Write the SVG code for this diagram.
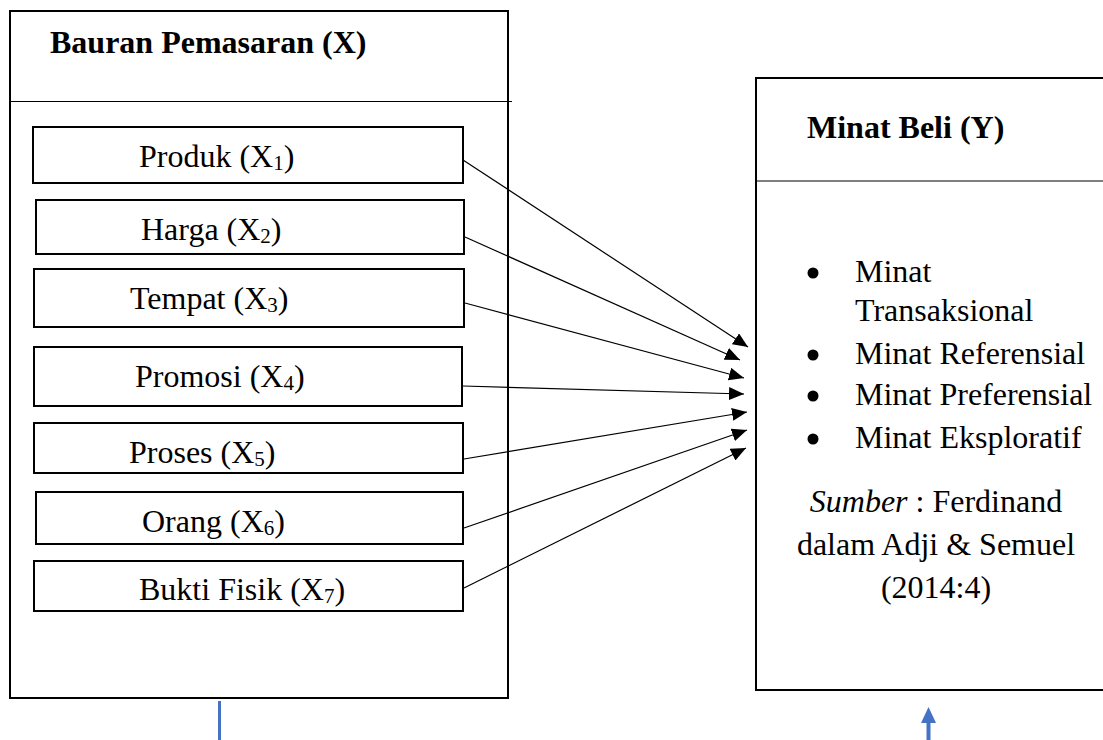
<svg xmlns="http://www.w3.org/2000/svg" width="1103" height="740" viewBox="0 0 1103 740">
<defs>
<style>
text{font-family:"Liberation Serif","Times New Roman",serif;font-size:32px;fill:#000}
.b{font-weight:bold}
.box{fill:#fff;stroke:#000;stroke-width:2}
.div{stroke:#000;stroke-width:1.2}
.arr{stroke:#000;stroke-width:1.2;fill:none;marker-end:url(#ah)}
.sub{font-size:21px}
</style>
<marker id="ah" markerUnits="userSpaceOnUse" markerWidth="16" markerHeight="13" refX="15" refY="6.5" orient="auto">
<path d="M0,0 L15,6.5 L0,13 z" fill="#000"/>
</marker>
</defs>
<rect width="1103" height="740" fill="#fff"/>
<g id="bauran">
<rect class="box" x="10" y="11" width="498" height="687"/>
<line class="div" x1="10" y1="101.5" x2="512" y2="101.5"/>
<text class="b" x="50" y="53">Bauran Pemasaran (X)</text>
</g>
<g id="produk"><rect class="box" x="33" y="127" width="430" height="56"/><text x="139" y="167">Produk (X<tspan class="sub" dy="3">1</tspan><tspan dy="-3">)</tspan></text></g>
<g id="harga"><rect class="box" x="36" y="200" width="428" height="54"/><text x="141" y="240">Harga (X<tspan class="sub" dy="3">2</tspan><tspan dy="-3">)</tspan></text></g>
<g id="tempat"><rect class="box" x="34" y="269" width="430" height="58"/><text x="130" y="309">Tempat (X<tspan class="sub" dy="3">3</tspan><tspan dy="-3">)</tspan></text></g>
<g id="promosi"><rect class="box" x="34" y="347" width="428" height="59"/><text x="135" y="387">Promosi (X<tspan class="sub" dy="3">4</tspan><tspan dy="-3">)</tspan></text></g>
<g id="proses"><rect class="box" x="34" y="423" width="429" height="50"/><text x="129" y="463">Proses (X<tspan class="sub" dy="3">5</tspan><tspan dy="-3">)</tspan></text></g>
<g id="orang"><rect class="box" x="36" y="492" width="427" height="52"/><text x="142" y="532">Orang (X<tspan class="sub" dy="3">6</tspan><tspan dy="-3">)</tspan></text></g>
<g id="bukti"><rect class="box" x="34" y="561" width="429" height="50"/><text x="139" y="600">Bukti Fisik (X<tspan class="sub" dy="3">7</tspan><tspan dy="-3">)</tspan></text></g>
<g id="minat">
<rect class="box" x="756" y="78" width="360" height="612"/>
<line class="div" x1="756" y1="181" x2="1103" y2="181"/>
<text class="b" x="807" y="138">Minat Beli (Y)</text>
<circle cx="813" cy="273" r="5.5"/>
<text x="855" y="282">Minat</text>
<text x="855" y="321">Transaksional</text>
<circle cx="813" cy="355" r="5.5"/>
<text x="855" y="364">Minat Referensial</text>
<circle cx="813" cy="396" r="5.5"/>
<text x="855" y="405">Minat Preferensial</text>
<circle cx="813" cy="439" r="5.5"/>
<text x="855" y="448">Minat Eksploratif</text>
<text x="936" y="512" text-anchor="middle"><tspan font-style="italic">Sumber</tspan> : Ferdinand</text>
<text x="936" y="555" text-anchor="middle">dalam Adji &amp; Semuel</text>
<text x="936" y="598" text-anchor="middle">(2014:4)</text>
</g>
<g id="connectors">
<line class="arr" x1="463" y1="160" x2="748" y2="347"/>
<line class="arr" x1="465" y1="237" x2="740" y2="360"/>
<line class="arr" x1="465" y1="303" x2="744" y2="378"/>
<line class="arr" x1="463" y1="386" x2="744" y2="394"/>
<line class="arr" x1="464" y1="459" x2="747" y2="412"/>
<line class="arr" x1="464" y1="528" x2="747" y2="430"/>
<line class="arr" x1="464" y1="588" x2="746" y2="448"/>
<line x1="219.5" y1="701" x2="219.5" y2="740" stroke="#4472C4" stroke-width="3"/>
<line x1="928.5" y1="720" x2="928.5" y2="740" stroke="#4472C4" stroke-width="4"/>
<polygon points="928.5,707 921,723 936,723" fill="#4472C4"/>
</g>
</svg>
